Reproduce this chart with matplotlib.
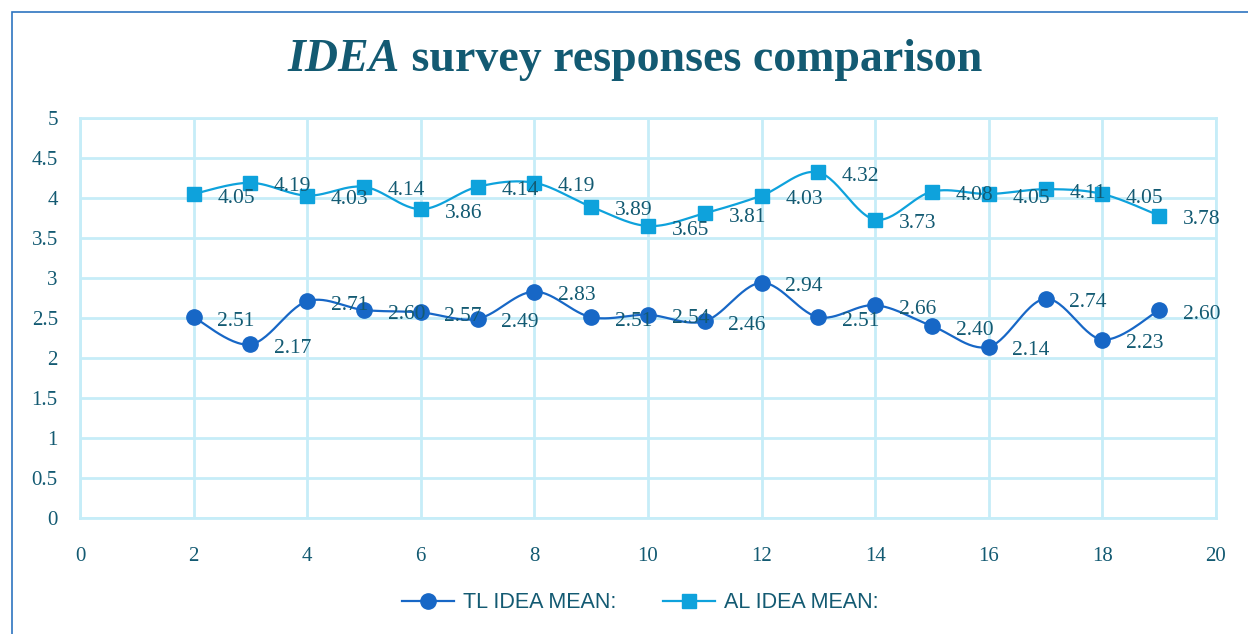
import numpy as np
import matplotlib
matplotlib.use("Agg")
import matplotlib.pyplot as plt
from matplotlib.patches import Rectangle
from matplotlib.lines import Line2D

x_vals = list(range(2, 20))
tl_mean = [2.51, 2.17, 2.71, 2.60, 2.57, 2.49, 2.83, 2.51, 2.54, 2.46,
           2.94, 2.51, 2.66, 2.40, 2.14, 2.74, 2.23, 2.60]
al_mean = [4.05, 4.19, 4.03, 4.14, 3.86, 4.14, 4.19, 3.89, 3.65, 3.81,
           4.03, 4.32, 3.73, 4.08, 4.05, 4.11, 4.05, 3.78]
series_names = ["TL IDEA MEAN:", "AL IDEA MEAN:"]

TEXT = "#135a72"
GRID = "#c6edf8"
TL_C = "#1767c6"
AL_C = "#0ea2dc"


def smooth(xs, ys, n=30):
    xs = np.asarray(xs, float)
    ys = np.asarray(ys, float)
    P = np.column_stack([xs, ys])
    out = [P[0]]
    for i in range(len(P) - 1):
        p0 = P[i - 1] if i > 0 else P[i]
        p1 = P[i]
        p2 = P[i + 1]
        p3 = P[i + 2] if i + 2 < len(P) else P[i + 1]
        c1 = p1 + (p2 - p0) / 6.0
        c2 = p2 - (p3 - p1) / 6.0
        t = np.linspace(0, 1, n)[1:, None]
        seg = ((1 - t) ** 3) * p1 + 3 * ((1 - t) ** 2) * t * c1 + 3 * (1 - t) * t ** 2 * c2 + t ** 3 * p2
        out.extend(seg)
    out = np.array(out)
    return out[:, 0], out[:, 1]


fig = plt.figure(figsize=(12.48, 6.34), dpi=100)
fig.patch.set_facecolor("white")

# outer chart border
fig.add_artist(Rectangle((12 / 1248, -0.1), 1.2, (1 - 12 / 634) + 0.1,
                         transform=fig.transFigure, fill=False,
                         edgecolor="#2e74c0", linewidth=1.2))

ax = fig.add_axes([80 / 1248, 1 - 518 / 634, (1216 - 80) / 1248, (518 - 118) / 634])
ax.set_xlim(0, 20)
ax.set_ylim(0, 5)
ax.set_xticks(range(0, 21, 2))
ax.set_yticks(np.arange(0, 5.01, 0.5))
ax.set_yticklabels(["0", "0.5", "1", "1.5", "2", "2.5", "3", "3.5", "4", "4.5", "5"])
ax.grid(True, color=GRID, linewidth=2.0)
ax.set_axisbelow(True)
for s in ax.spines.values():
    s.set_color(GRID)
    s.set_linewidth(2.0)
ax.tick_params(length=0, labelsize=15, labelcolor=TEXT)
ax.tick_params(axis="x", pad=21)
ax.tick_params(axis="y", pad=16)
for lab in ax.get_xticklabels() + ax.get_yticklabels():
    lab.set_fontfamily("Liberation Serif")

for ys, col, mk in [(tl_mean, TL_C, "o"), (al_mean, AL_C, "s")]:
    sx, sy = smooth(x_vals, ys)
    ax.plot(sx, sy, color=col, linewidth=1.6, zorder=3)
    ax.plot(x_vals, ys, linestyle="none", marker=mk, markersize=11 if mk == "o" else 10.5,
            markerfacecolor=col, markeredgecolor=col, zorder=4)
    for xv, yv in zip(x_vals, ys):
        ax.annotate(f"{yv:.2f}", (xv, yv), xytext=(17, -3), textcoords="offset points",
                    ha="left", va="center", fontsize=15.5, color=TEXT,
                    family="Liberation Serif", zorder=5)

# title: italic "IDEA" + bold rest, centred around x=635 px
ty = 1 - 60 / 634
tA = fig.text(0, ty, "IDEA", fontsize=33, fontweight="bold", style="italic",
              color=TEXT, family="Liberation Serif", ha="left", va="center")
tB = fig.text(0, ty, " survey responses comparison", fontsize=33, fontweight="bold",
              color=TEXT, family="Liberation Serif", ha="left", va="center")
fig.canvas.draw()
r = fig.canvas.get_renderer()
wA = tA.get_window_extent(r).width
wB = tB.get_window_extent(r).width
left = 635 - (wA + wB) / 2
tA.set_x(left / 1248)
tB.set_x((left + wA) / 1248)

handles = [Line2D([], [], color=TL_C, marker="o", markersize=11, linewidth=1.6),
           Line2D([], [], color=AL_C, marker="s", markersize=10.5, linewidth=1.6)]
fig.legend(handles, series_names, loc="center", bbox_to_anchor=(0.513, 1 - 603 / 634),
           ncol=2, frameon=False, labelcolor=TEXT,
           prop={"family": "Liberation Sans", "size": 15.5}, handlelength=2.4,
           columnspacing=2.2, handletextpad=0.4)

fig.savefig("out.png", dpi=100, facecolor="white")
